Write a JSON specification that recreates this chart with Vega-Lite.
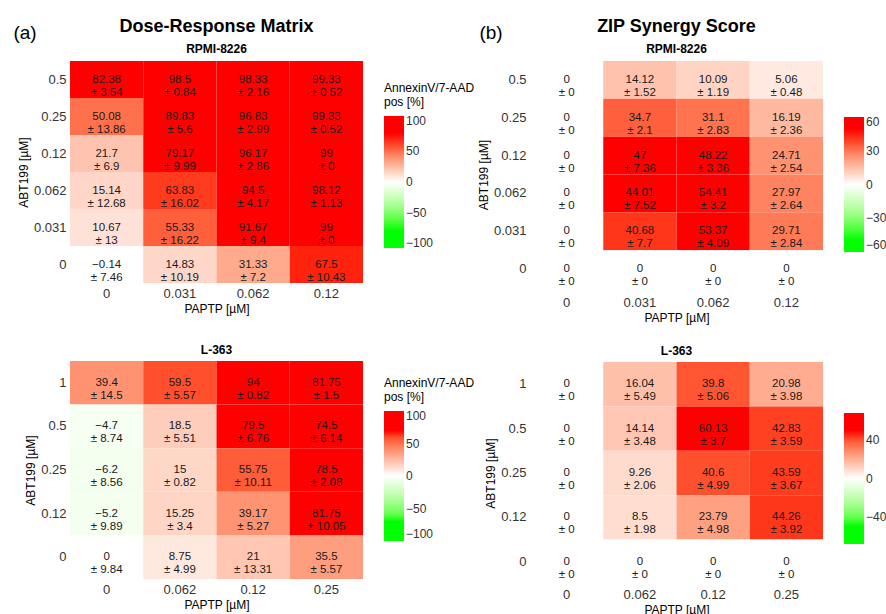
{
  "$schema": "https://vega.github.io/schema/vega-lite/v6.json",
  "padding": {"left": 13, "top": 18, "right": 0, "bottom": 0},
  "background": "white",
  "datasets": {
    "dra": [
      {"paptp": "0", "abt": "0.5", "m": 82.38, "s": 3.54},
      {"paptp": "0.031", "abt": "0.5", "m": 98.5, "s": 0.84},
      {"paptp": "0.062", "abt": "0.5", "m": 98.33, "s": 2.16},
      {"paptp": "0.12", "abt": "0.5", "m": 99.33, "s": 0.52},
      {"paptp": "0", "abt": "0.25", "m": 50.08, "s": 13.86},
      {"paptp": "0.031", "abt": "0.25", "m": 89.83, "s": 5.6},
      {"paptp": "0.062", "abt": "0.25", "m": 96.83, "s": 2.99},
      {"paptp": "0.12", "abt": "0.25", "m": 99.33, "s": 0.52},
      {"paptp": "0", "abt": "0.12", "m": 21.7, "s": 6.9},
      {"paptp": "0.031", "abt": "0.12", "m": 79.17, "s": 9.99},
      {"paptp": "0.062", "abt": "0.12", "m": 96.17, "s": 2.86},
      {"paptp": "0.12", "abt": "0.12", "m": 99, "s": 0},
      {"paptp": "0", "abt": "0.062", "m": 15.14, "s": 12.68},
      {"paptp": "0.031", "abt": "0.062", "m": 63.83, "s": 16.02},
      {"paptp": "0.062", "abt": "0.062", "m": 94.5, "s": 4.17},
      {"paptp": "0.12", "abt": "0.062", "m": 98.12, "s": 1.13},
      {"paptp": "0", "abt": "0.031", "m": 10.67, "s": 13},
      {"paptp": "0.031", "abt": "0.031", "m": 55.33, "s": 16.22},
      {"paptp": "0.062", "abt": "0.031", "m": 91.67, "s": 9.4},
      {"paptp": "0.12", "abt": "0.031", "m": 99, "s": 0},
      {"paptp": "0", "abt": "0", "m": -0.14, "s": 7.46},
      {"paptp": "0.031", "abt": "0", "m": 14.83, "s": 10.19},
      {"paptp": "0.062", "abt": "0", "m": 31.33, "s": 7.2},
      {"paptp": "0.12", "abt": "0", "m": 67.5, "s": 10.43}
    ],
    "drb": [
      {"paptp": "0", "abt": "1", "m": 39.4, "s": 14.5},
      {"paptp": "0.062", "abt": "1", "m": 59.5, "s": 5.57},
      {"paptp": "0.12", "abt": "1", "m": 94, "s": 0.82},
      {"paptp": "0.25", "abt": "1", "m": 81.75, "s": 1.5},
      {"paptp": "0", "abt": "0.5", "m": -4.7, "s": 8.74},
      {"paptp": "0.062", "abt": "0.5", "m": 18.5, "s": 5.51},
      {"paptp": "0.12", "abt": "0.5", "m": 79.5, "s": 6.76},
      {"paptp": "0.25", "abt": "0.5", "m": 74.5, "s": 6.14},
      {"paptp": "0", "abt": "0.25", "m": -6.2, "s": 8.56},
      {"paptp": "0.062", "abt": "0.25", "m": 15, "s": 0.82},
      {"paptp": "0.12", "abt": "0.25", "m": 55.75, "s": 10.11},
      {"paptp": "0.25", "abt": "0.25", "m": 78.5, "s": 2.08},
      {"paptp": "0", "abt": "0.12", "m": -5.2, "s": 9.89},
      {"paptp": "0.062", "abt": "0.12", "m": 15.25, "s": 3.4},
      {"paptp": "0.12", "abt": "0.12", "m": 39.17, "s": 5.27},
      {"paptp": "0.25", "abt": "0.12", "m": 81.75, "s": 10.05},
      {"paptp": "0", "abt": "0", "m": 0, "s": 9.84},
      {"paptp": "0.062", "abt": "0", "m": 8.75, "s": 4.99},
      {"paptp": "0.12", "abt": "0", "m": 21, "s": 13.31},
      {"paptp": "0.25", "abt": "0", "m": 35.5, "s": 5.57}
    ],
    "zipa": [
      {"paptp": "0", "abt": "0.5", "m": 0, "s": 0},
      {"paptp": "0.031", "abt": "0.5", "m": 14.12, "s": 1.52},
      {"paptp": "0.062", "abt": "0.5", "m": 10.09, "s": 1.19},
      {"paptp": "0.12", "abt": "0.5", "m": 5.06, "s": 0.48},
      {"paptp": "0", "abt": "0.25", "m": 0, "s": 0},
      {"paptp": "0.031", "abt": "0.25", "m": 34.7, "s": 2.1},
      {"paptp": "0.062", "abt": "0.25", "m": 31.1, "s": 2.83},
      {"paptp": "0.12", "abt": "0.25", "m": 16.19, "s": 2.36},
      {"paptp": "0", "abt": "0.12", "m": 0, "s": 0},
      {"paptp": "0.031", "abt": "0.12", "m": 47, "s": 7.36},
      {"paptp": "0.062", "abt": "0.12", "m": 48.22, "s": 3.36},
      {"paptp": "0.12", "abt": "0.12", "m": 24.71, "s": 2.54},
      {"paptp": "0", "abt": "0.062", "m": 0, "s": 0},
      {"paptp": "0.031", "abt": "0.062", "m": 44.01, "s": 7.52},
      {"paptp": "0.062", "abt": "0.062", "m": 54.41, "s": 3.2},
      {"paptp": "0.12", "abt": "0.062", "m": 27.97, "s": 2.64},
      {"paptp": "0", "abt": "0.031", "m": 0, "s": 0},
      {"paptp": "0.031", "abt": "0.031", "m": 40.68, "s": 7.7},
      {"paptp": "0.062", "abt": "0.031", "m": 53.37, "s": 4.09},
      {"paptp": "0.12", "abt": "0.031", "m": 29.71, "s": 2.84},
      {"paptp": "0", "abt": "0", "m": 0, "s": 0},
      {"paptp": "0.031", "abt": "0", "m": 0, "s": 0},
      {"paptp": "0.062", "abt": "0", "m": 0, "s": 0},
      {"paptp": "0.12", "abt": "0", "m": 0, "s": 0}
    ],
    "zipb": [
      {"paptp": "0", "abt": "1", "m": 0, "s": 0},
      {"paptp": "0.062", "abt": "1", "m": 16.04, "s": 5.49},
      {"paptp": "0.12", "abt": "1", "m": 39.8, "s": 5.06},
      {"paptp": "0.25", "abt": "1", "m": 20.98, "s": 3.98},
      {"paptp": "0", "abt": "0.5", "m": 0, "s": 0},
      {"paptp": "0.062", "abt": "0.5", "m": 14.14, "s": 3.48},
      {"paptp": "0.12", "abt": "0.5", "m": 60.13, "s": 3.7},
      {"paptp": "0.25", "abt": "0.5", "m": 42.83, "s": 3.59},
      {"paptp": "0", "abt": "0.25", "m": 0, "s": 0},
      {"paptp": "0.062", "abt": "0.25", "m": 9.26, "s": 2.06},
      {"paptp": "0.12", "abt": "0.25", "m": 40.6, "s": 4.99},
      {"paptp": "0.25", "abt": "0.25", "m": 43.59, "s": 3.67},
      {"paptp": "0", "abt": "0.12", "m": 0, "s": 0},
      {"paptp": "0.062", "abt": "0.12", "m": 8.5, "s": 1.98},
      {"paptp": "0.12", "abt": "0.12", "m": 23.79, "s": 4.98},
      {"paptp": "0.25", "abt": "0.12", "m": 44.26, "s": 3.92},
      {"paptp": "0", "abt": "0", "m": 0, "s": 0},
      {"paptp": "0.062", "abt": "0", "m": 0, "s": 0},
      {"paptp": "0.12", "abt": "0", "m": 0, "s": 0},
      {"paptp": "0.25", "abt": "0", "m": 0, "s": 0}
    ]
  },
  "hconcat": [
    {
      "title": {"text": "(a)", "anchor": "start", "fontSize": 19, "fontWeight": "normal", "offset": -25, "dx": -4},
      "spacing": 30,
      "resolve": {"scale": {"color": "independent"}, "legend": {"color": "independent"}},
      "vconcat": [
        {
          "data": {"name": "dra"},
          "width": 293, "height": 222,
          "title": {"text": "Dose-Response Matrix", "subtitle": "RPMI-8226"},
          "transform": [{"calculate": "replace(toString(datum.m), '-', '−') + '\\n± ' + toString(datum.s)", "as": "label"}],
          "encoding": {
            "x": {"field": "paptp", "type": "ordinal", "sort": ["0", "0.031", "0.062", "0.12"], "title": "PAPTP [µM]"},
            "y": {"field": "abt", "type": "ordinal", "sort": ["0.5", "0.25", "0.12", "0.062", "0.031", "0"], "title": "ABT199 [µM]"}
          },
          "layer": [
            {"mark": {"type": "rect"},
             "encoding": {"color": {"field": "m", "type": "quantitative",
               "scale": {"domain": [-108, -70, 0, 70, 108], "range": ["#00ff00", "#00ff00", "#ffffff", "#ff0000", "#ff0000"], "interpolate": "lab", "nice": false, "zero": false},
               "legend": {"title": ["AnnexinV/7-AAD", "pos [%]"], "orient": "none", "legendX": 314, "legendY": 22, "gradientLength": 132, "values": [100, 50, 0, -50, -100]}}}},
            {"mark": {"type": "text", "lineBreak": "\n", "fontSize": 11.5, "lineHeight": 13, "color": "#1a1a1a"},
             "encoding": {"text": {"field": "label"}}}
          ]
        },
        {
          "data": {"name": "drb"},
          "width": 293, "height": 218,
          "title": {"text": "L-363", "fontSize": 12, "offset": 4},
          "transform": [{"calculate": "replace(toString(datum.m), '-', '−') + '\\n± ' + toString(datum.s)", "as": "label"}],
          "encoding": {
            "x": {"field": "paptp", "type": "ordinal", "sort": ["0", "0.062", "0.12", "0.25"], "title": "PAPTP [µM]"},
            "y": {"field": "abt", "type": "ordinal", "sort": ["1", "0.5", "0.25", "0.12", "0"], "title": "ABT199 [µM]"}
          },
          "layer": [
            {"mark": {"type": "rect"},
             "encoding": {"color": {"field": "m", "type": "quantitative",
               "scale": {"domain": [-100, -70, 0, 70, 100], "range": ["#00ff00", "#00ff00", "#ffffff", "#ff0000", "#ff0000"], "interpolate": "lab", "nice": false, "zero": false},
               "legend": {"title": ["AnnexinV/7-AAD", "pos [%]"], "orient": "none", "legendX": 314, "legendY": 17, "gradientLength": 130, "values": [100, 50, 0, -50, -100]}}}},
            {"mark": {"type": "text", "lineBreak": "\n", "fontSize": 11.5, "lineHeight": 13, "color": "#1a1a1a"},
             "encoding": {"text": {"field": "label"}}}
          ]
        }
      ]
    },
    {
      "title": {"text": "(b)", "anchor": "start", "fontSize": 19, "fontWeight": "normal", "offset": -25, "dx": 2},
      "spacing": 22,
      "resolve": {"scale": {"color": "independent"}, "legend": {"color": "independent"}},
      "vconcat": [
        {
          "data": {"name": "zipa"},
          "width": 293, "height": 227,
          "title": {"text": "ZIP Synergy Score", "subtitle": "RPMI-8226"},
          "transform": [{"calculate": "replace(toString(datum.m), '-', '−') + '\\n± ' + toString(datum.s)", "as": "label"}],
          "encoding": {
            "x": {"field": "paptp", "type": "ordinal", "sort": ["0", "0.031", "0.062", "0.12"], "title": "PAPTP [µM]", "axis": {"labelPadding": 8}},
            "y": {"field": "abt", "type": "ordinal", "sort": ["0.5", "0.25", "0.12", "0.062", "0.031", "0"], "title": "ABT199 [µM]"}
          },
          "layer": [
            {"mark": {"type": "rect"},
             "encoding": {"color": {"field": "m", "type": "quantitative",
               "scale": {"domain": [-60, -44, 0, 44, 60], "range": ["#00ff00", "#00ff00", "#ffffff", "#ff0000", "#ff0000"], "interpolate": "lab", "nice": false, "zero": false},
               "legend": {"title": null, "orient": "none", "legendX": 314, "legendY": 56, "gradientLength": 135, "values": [60, 30, 0, -30, -60]}}}},
            {"mark": {"type": "text", "lineBreak": "\n", "fontSize": 11.5, "lineHeight": 13, "color": "#1a1a1a"},
             "encoding": {"text": {"field": "label"}}}
          ]
        },
        {
          "data": {"name": "zipb"},
          "width": 293, "height": 222,
          "title": {"text": "L-363", "fontSize": 12, "offset": 4},
          "transform": [{"calculate": "replace(toString(datum.m), '-', '−') + '\\n± ' + toString(datum.s)", "as": "label"}],
          "encoding": {
            "x": {"field": "paptp", "type": "ordinal", "sort": ["0", "0.062", "0.12", "0.25"], "title": "PAPTP [µM]"},
            "y": {"field": "abt", "type": "ordinal", "sort": ["1", "0.5", "0.25", "0.12", "0"], "title": "ABT199 [µM]"}
          },
          "layer": [
            {"mark": {"type": "rect"},
             "encoding": {"color": {"field": "m", "type": "quantitative",
               "scale": {"domain": [-68, -48, 0, 48, 68], "range": ["#00ff00", "#00ff00", "#ffffff", "#ff0000", "#ff0000"], "interpolate": "lab", "nice": false, "zero": false},
               "legend": {"title": null, "orient": "none", "legendX": 314, "legendY": 51, "gradientLength": 131, "values": [40, 0, -40]}}}},
            {"mark": {"type": "text", "lineBreak": "\n", "fontSize": 11.5, "lineHeight": 13, "color": "#1a1a1a"},
             "encoding": {"text": {"field": "label"}}}
          ]
        }
      ]
    }
  ],
  "spacing": 2,
  "resolve": {"scale": {"color": "independent"}, "legend": {"color": "independent"}},
  "config": {
    "font": "Liberation Sans",
    "view": {"stroke": null},
    "axis": {"domain": false, "ticks": false, "grid": false, "labelFontSize": 13, "labelColor": "#333", "titleFontSize": 12, "titleFontWeight": "normal", "titleColor": "#000", "labelPadding": 4, "titlePadding": 3},
    "axisX": {"labelAngle": 0},
    "title": {"fontSize": 18, "fontWeight": "bold", "color": "#000", "subtitleFontSize": 12, "subtitleFontWeight": "bold", "subtitleColor": "#000", "subtitlePadding": 8, "anchor": "middle", "offset": 6},
    "legend": {"gradientThickness": 20, "gradientStrokeWidth": 0, "labelFontSize": 12, "labelColor": "#333", "titleFontSize": 12, "titleFontWeight": "normal", "titleColor": "#000", "titleLineHeight": 14, "titlePadding": 7, "labelOffset": 4, "labelBaseline": "middle", "padding": 0}
  }
}
